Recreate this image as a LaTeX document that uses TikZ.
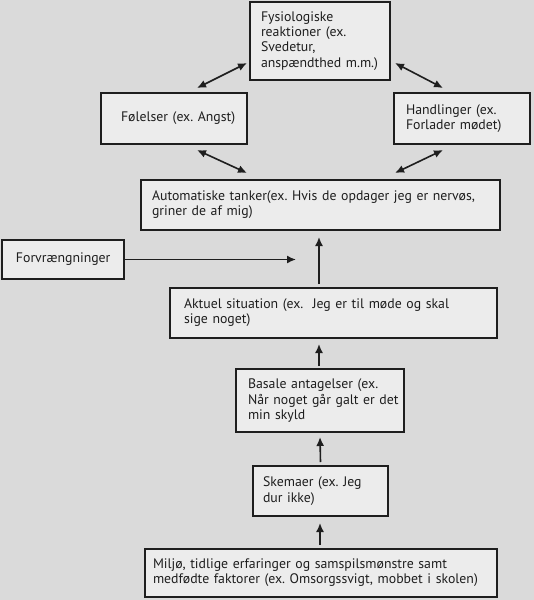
\documentclass[tikz,border=0pt]{standalone}
\usepackage{fontspec}
\setmainfont{PT Sans}
\usetikzlibrary{arrows.meta}
\definecolor{bgc}{HTML}{DADADA}
\definecolor{boxc}{HTML}{ECECEC}
\definecolor{inkc}{HTML}{1E1E1E}
\newcommand{\myline}[1]{\mbox{#1}}
\frenchspacing
\tikzset{
  box/.style={draw=inkc, fill=boxc, line width=1.4pt, align=left, inner ysep=0pt,
    outer sep=0pt, text=inkc, font=\fontsize{13.8}{15.2}\selectfont\frenchspacing, rectangle},
  arr/.style={draw=inkc, line width=1.6pt, -{Latex[length=9pt,width=8pt]}},
  dbl/.style={draw=inkc, line width=1.6pt, {Latex[length=9pt,width=8pt]}-{Latex[length=9pt,width=8pt]}}
}
\begin{document}
\begin{tikzpicture}[x=1pt,y=-1pt]
\fill[bgc] (0,0) rectangle (534,600);
\useasboundingbox (0,0) rectangle (534,600);
\node[box, minimum width=140pt, minimum height=78pt, inner xsep=11pt, text width=118pt] (fys) at (320,41)
  {\myline{Fysiologiske}\\\myline{reaktioner (ex.}\\\myline{Svedetur,}\\\myline{anspændthed m.m.)}};
\node[box, minimum width=146pt, minimum height=51pt, inner xsep=20pt, text width=106pt] (fol) at (174,118.5)
  {\myline{Følelser (ex. Angst)}};
\node[box, minimum width=136pt, minimum height=51pt, inner xsep=12pt, text width=112pt] (han) at (462,118.5)
  {\myline{Handlinger (ex.}\\\myline{Forlader mødet)}};
\node[box, minimum width=359pt, minimum height=50pt, inner xsep=11pt, text width=337pt] (aut) at (320.5,205)
  {\myline{Automatiske tanker(ex. Hvis de opdager jeg er nervøs,}\\\myline{griner de af mig)}};
\node[box, minimum width=122pt, minimum height=39pt, inner xsep=14pt, text width=94pt] (forv) at (63,259.5)
  {\myline{Forvrængninger}};
\node[box, minimum width=327pt, minimum height=50pt, inner xsep=14pt, text width=299pt] (akt) at (333.5,313)
  {\myline{Aktuel situation (ex.\ \ Jeg er til møde og skal}\\\myline{sige noget)}};
\node[box, minimum width=168pt, minimum height=63pt, inner xsep=12pt, text width=144pt] (bas) at (320,400.5)
  {\myline{Basale antagelser (ex.}\\\myline{Når noget går galt er det}\\\myline{min skyld}};
\node[box, minimum width=135pt, minimum height=50pt, inner xsep=10pt, text width=115pt] (ske) at (320.5,491)
  {\myline{Skemaer (ex. Jeg}\\\myline{dur ikke)}};
\node[box, minimum width=352pt, minimum height=48pt, inner xsep=8pt, text width=336pt] (mil) at (321,573)
  {\myline{Miljø, tidlige erfaringer og samspilsmønstre samt}\\\myline{medfødte faktorer (ex. Omsorgssvigt, mobbet i skolen)}};
% double arrows
\draw[dbl] ([xshift=23pt,yshift=5pt]fol.north) -- ([xshift=-3pt,yshift=-22pt]fys.west);
\draw[dbl] ([xshift=5pt,yshift=-22pt]fys.east) -- ([xshift=-19pt,yshift=5pt]han.north);
\draw[dbl] ([xshift=23pt,yshift=-6pt]fol.south) -- ([xshift=-73.5pt,yshift=7pt]aut.north);
\draw[dbl] ([xshift=-19pt,yshift=-6pt]han.south) -- ([xshift=74.5pt,yshift=7pt]aut.north);
% single arrows
\draw[arr] ([xshift=1pt]forv.east) -- ([xshift=172pt]forv.east);
\draw[arr] ([xshift=-14.5pt,yshift=4pt]akt.north) -- ([xshift=-1.5pt,yshift=-7pt]aut.south);
\draw[arr] ([xshift=-1pt,yshift=3pt]bas.north) -- ([xshift=-14.5pt,yshift=-6pt]akt.south);
\draw[arr] ([yshift=4pt]ske.north) -- ([yshift=-5pt]bas.south);
\draw[arr] ([xshift=-1pt,yshift=4pt]mil.north) -- ([xshift=-0.5pt,yshift=-7pt]ske.south);
\end{tikzpicture}
\end{document}
